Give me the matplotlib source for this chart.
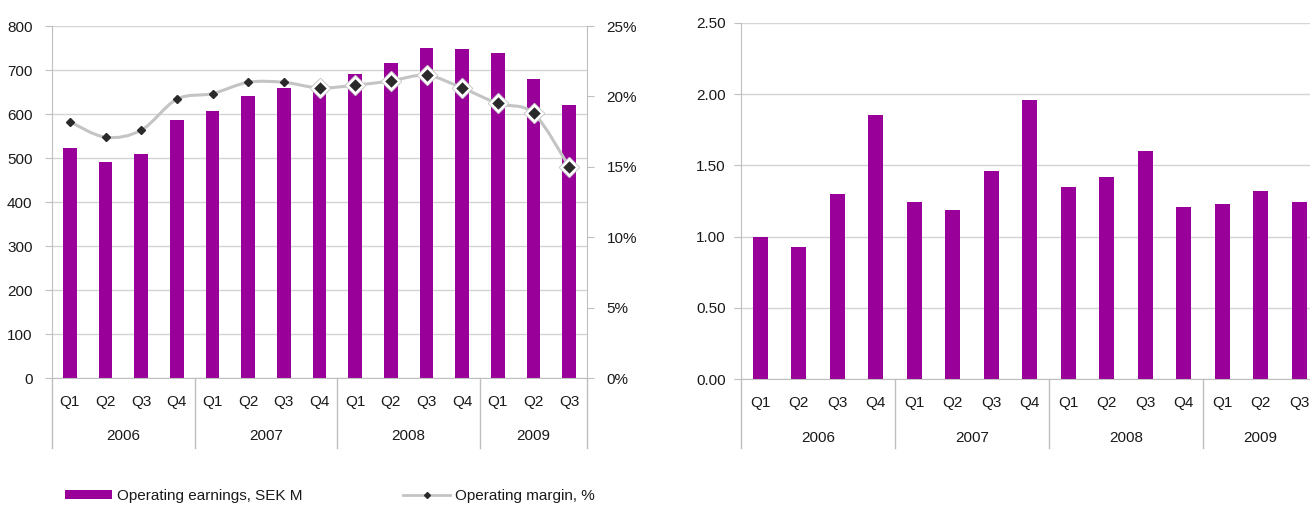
import matplotlib
matplotlib.use("Agg")
import matplotlib.pyplot as plt
from matplotlib.path import Path
from matplotlib.patches import PathPatch, Patch
from matplotlib.lines import Line2D
import matplotlib.transforms as mtransforms
import numpy as np

plt.rcParams['font.family'] = ['Liberation Sans', 'DejaVu Sans']

quarters = ["Q1", "Q2", "Q3", "Q4", "Q1", "Q2", "Q3", "Q4",
            "Q1", "Q2", "Q3", "Q4", "Q1", "Q2", "Q3"]
years = ["2006", "2007", "2008", "2009"]
year_starts = [0, 4, 8, 12]
year_ends = [4, 8, 12, 15]

earnings = [522, 490, 508, 586, 606, 642, 658, 667, 692, 715, 751, 748, 738, 680, 620]
margin = [18.2, 17.1, 17.6, 19.8, 20.2, 21.0, 21.0, 20.6, 20.8, 21.1, 21.5, 20.6, 19.5, 18.8, 15.0]
eps = [1.00, 0.93, 1.30, 1.85, 1.24, 1.19, 1.46, 1.96, 1.35, 1.42, 1.60, 1.21, 1.23, 1.32, 1.24]

PURPLE = "#990099"
GRID = "#d4d4d4"
AXIS = "#bfbfbf"
TXT = "#1a1a1a"
LINEC = "#c4c4c4"
FS = 11

fig = plt.figure(figsize=(13.1, 5.07), dpi=100)
W, H = 1310, 507


def add_axes_px(x0, x1, ytop, ybot):
    return fig.add_axes([x0 / W, (H - ybot) / H, (x1 - x0) / W, (ybot - ytop) / H])


def style_cat_axis(ax, n, yrel_year, sep_bottom):
    ax.set_xlim(0, n)
    x = np.arange(n) + 0.5
    ax.set_xticks(x)
    ax.set_xticklabels(quarters, fontsize=FS, color=TXT)
    ax.tick_params(axis='x', length=0, pad=12)
    trans = mtransforms.blended_transform_factory(ax.transData, ax.transAxes)
    for s, e, yl in zip(year_starts, year_ends, years):
        ax.text((s + e) / 2, yrel_year, yl, transform=trans, ha='center', va='center',
                fontsize=FS, color=TXT)
    for b in sorted(set(year_starts + year_ends)):
        ax.plot([b, b], [0, sep_bottom], transform=trans, color=AXIS, lw=1,
                clip_on=False, zorder=1)
    for sp in ['top', 'right']:
        ax.spines[sp].set_visible(False)
    ax.spines['left'].set_color(AXIS)
    ax.spines['bottom'].set_color(AXIS)
    ax.set_axisbelow(True)
    ax.yaxis.grid(True, color=GRID, lw=1)


# ---------------- Left chart ----------------
ax1 = add_axes_px(52, 587, 26, 378)
n = len(quarters)
xpos = np.arange(n) + 0.5
ax1.bar(xpos, earnings, width=0.38, color=PURPLE, zorder=2)
ax1.set_ylim(0, 800)
ax1.set_yticks(range(0, 801, 100))
ax1.tick_params(axis='y', length=5, color=AXIS, pad=9, labelsize=FS, labelcolor=TXT)
style_cat_axis(ax1, n, -0.165, -0.199)

ax2 = ax1.twinx()
ax2.set_ylim(0, 25)
ax2.set_yticks(range(0, 26, 5))
ax2.set_yticklabels([f"{v}%" for v in range(0, 26, 5)])
ax2.tick_params(axis='y', length=5, color=AXIS, pad=9, labelsize=FS, labelcolor=TXT)
for sp in ['top', 'left', 'bottom']:
    ax2.spines[sp].set_visible(False)
ax2.spines['right'].set_color(AXIS)

# smooth line (Catmull-Rom as cubic Bezier, drawn by matplotlib Path)
px = np.asarray(xpos, float)
py = np.asarray(margin, float)
verts = [(px[0], py[0])]
codes = [Path.MOVETO]
for i in range(n - 1):
    p0 = np.array([px[max(i - 1, 0)], py[max(i - 1, 0)]])
    p1 = np.array([px[i], py[i]])
    p2 = np.array([px[i + 1], py[i + 1]])
    p3 = np.array([px[min(i + 2, n - 1)], py[min(i + 2, n - 1)]])
    c1 = p1 + (p2 - p0) / 6.0
    c2 = p2 - (p3 - p1) / 6.0
    verts += [tuple(c1), tuple(c2), tuple(p2)]
    codes += [Path.CURVE4] * 3
ax2.add_patch(PathPatch(Path(verts, codes), facecolor='none', edgecolor=LINEC, lw=2.2, zorder=3))

ax2.plot(px[:7], py[:7], linestyle='none', marker='D', markersize=4.5,
         mfc='#2a2a2a', mec='#2a2a2a', zorder=4)
ax2.plot(px[7:], py[7:], linestyle='none', marker='D', markersize=10,
         mfc=LINEC, mec=LINEC, zorder=4)
ax2.plot(px[7:], py[7:], linestyle='none', marker='D', markersize=8,
         mfc='#2a2a2a', mec='white', mew=1.8, zorder=5)

# ---------------- Right chart ----------------
ax3 = add_axes_px(741, 1318.5, 22.7, 379.3)
ax3.bar(xpos, eps, width=0.38, color=PURPLE, zorder=2)
ax3.set_ylim(0, 2.5)
ax3.set_yticks(np.arange(0, 2.51, 0.5))
ax3.set_yticklabels([f"{v:.2f}" for v in np.arange(0, 2.51, 0.5)])
ax3.tick_params(axis='y', length=5, color=AXIS, pad=6, labelsize=FS, labelcolor=TXT)
style_cat_axis(ax3, n, -0.164, -0.194)

# ---------------- Legend ----------------
handles = [Patch(facecolor=PURPLE, edgecolor='none'),
           Line2D([0], [0], color=LINEC, lw=2, marker='D', markersize=3,
                  mfc='#2a2a2a', mec='#2a2a2a')]
labels = ["Operating earnings, SEK M", "Operating margin, %"]
fig.legend(handles, labels, loc='center left', bbox_to_anchor=(51 / W, 1 - 496 / H),
           ncol=2, frameon=False, fontsize=FS, handlelength=3.1, handleheight=0.45,
           handletextpad=0.3, columnspacing=6.6, labelcolor=TXT)

fig.savefig("out.png", dpi=100)
